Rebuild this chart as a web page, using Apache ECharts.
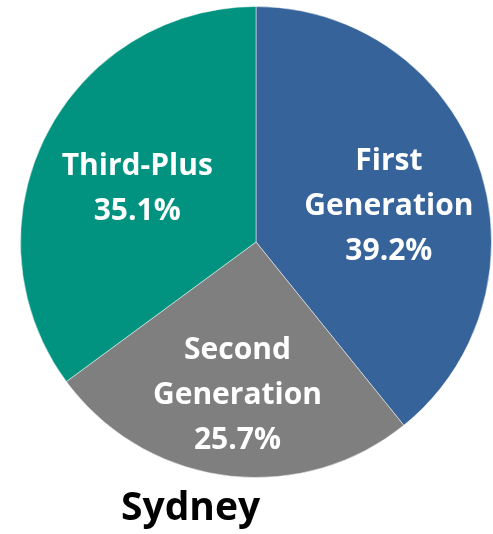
<!DOCTYPE html>
<html>
<head>
<meta charset="utf-8">
<script src="https://cdn.jsdelivr.net/npm/echarts@6/dist/echarts.min.js"></script>
<style>
  html, body { margin: 0; padding: 0; background: #fff; }
  #chart { width: 493px; height: 534px; }
</style>
</head>
<body>
<div id="chart"></div>
<script>
// share of population by generation (%)
const categories = ["First Generation", "Second Generation", "Third-Plus"];
const shares = [39.2, 25.7, 35.1];
const colors = ["#35639A", "#7F7F7F", "#01937F"];
// nudges so the labels sit where the original puts them
const labelOffsets = [[19, 5], [-3, 34], [-11, 1]];

const chart = echarts.init(document.getElementById("chart"));

chart.setOption({
  animation: false,
  title: {
    text: "Sydney",
    left: 116,
    top: 484,
    textStyle: {
      fontFamily: "Open Sans",
      fontWeight: "bold",
      fontSize: 39,
      color: "#000"
    }
  },
  series: [
    {
      type: "pie",
      center: [256, 242],
      radius: 235.5,
      startAngle: 90,
      clockwise: true,
      silent: true,
      itemStyle: {
        borderColor: "rgba(255,255,255,0.6)",
        borderWidth: 0.8
      },
      label: {
        show: true,
        position: "inside",
        fontFamily: "Open Sans",
        fontWeight: "bold",
        fontSize: 30,
        lineHeight: 45,
        color: "#fff",
        align: "center",
        formatter: p =>
          (p.name === "Third-Plus" ? p.name : p.name.replace(" ", "\n")) +
          "\n" + p.value.toFixed(1) + "%"
      },
      labelLine: { show: false },
      data: categories.map((name, i) => ({
        name: name,
        value: shares[i],
        itemStyle: { color: colors[i] },
        label: { offset: labelOffsets[i] }
      }))
    }
  ]
});
</script>
</body>
</html>
